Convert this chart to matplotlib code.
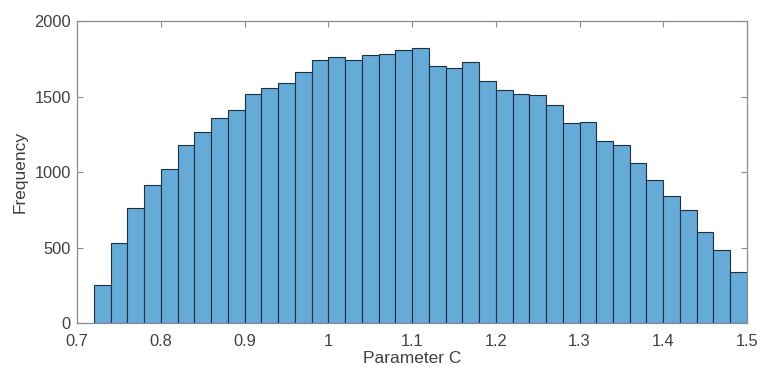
import numpy as np
import matplotlib
matplotlib.use("Agg")
import matplotlib.pyplot as plt

# histogram of parameter C, bin width 0.02 from 0.72 to 1.50
bin_edges = [0.72, 0.74, 0.76, 0.78, 0.80, 0.82, 0.84, 0.86, 0.88, 0.90,
             0.92, 0.94, 0.96, 0.98, 1.00, 1.02, 1.04, 1.06, 1.08, 1.10,
             1.12, 1.14, 1.16, 1.18, 1.20, 1.22, 1.24, 1.26, 1.28, 1.30,
             1.32, 1.34, 1.36, 1.38, 1.40, 1.42, 1.44, 1.46, 1.48, 1.50]
counts = [250, 530, 762, 915, 1021, 1176, 1264, 1361, 1414, 1514,
          1554, 1589, 1660, 1739, 1761, 1744, 1775, 1781, 1806, 1819,
          1704, 1691, 1726, 1602, 1543, 1518, 1512, 1441, 1322, 1333,
          1207, 1182, 1061, 950, 842, 751, 601, 482, 338]

x_ticks = [0.7, 0.8, 0.9, 1.0, 1.1, 1.2, 1.3, 1.4, 1.5]
x_labels = ["0.7", "0.8", "0.9", "1", "1.1", "1.2", "1.3", "1.4", "1.5"]
y_ticks = [0, 500, 1000, 1500, 2000]

plt.rcParams['font.family'] = ['Liberation Sans', 'DejaVu Sans']

fig = plt.figure(figsize=(7.61, 3.72), dpi=100)
ax = fig.add_axes([0.1012, 0.1317, 0.8804, 0.8118])
ax.set_axisbelow(True)

edges = np.array(bin_edges)
ax.bar(edges[:-1], counts, width=np.diff(edges), align='edge',
       color='#66aad7', edgecolor='#1d2f40', linewidth=0.8)

ax.set_xlim(0.7, 1.5)
ax.set_ylim(0, 2000)
ax.set_xticks(x_ticks)
ax.set_xticklabels(x_labels)
ax.set_yticks(y_ticks)

axis_gray = '#8c8c8c'
text_gray = '#404040'
for s in ax.spines.values():
  s.set_color(axis_gray)
  s.set_linewidth(0.9)
ax.tick_params(direction='in', top=True, right=True, length=4,
               width=0.8, color=axis_gray, labelsize=11.8,
               labelcolor=text_gray)
ax.tick_params(axis='x', pad=8)
ax.tick_params(axis='y', pad=4.5)

ax.set_xlabel('Parameter C', fontsize=12.5, color=text_gray, labelpad=1)
ax.set_ylabel('Frequency', fontsize=12.5, color=text_gray, labelpad=5)

fig.savefig('out.png', dpi=100)
